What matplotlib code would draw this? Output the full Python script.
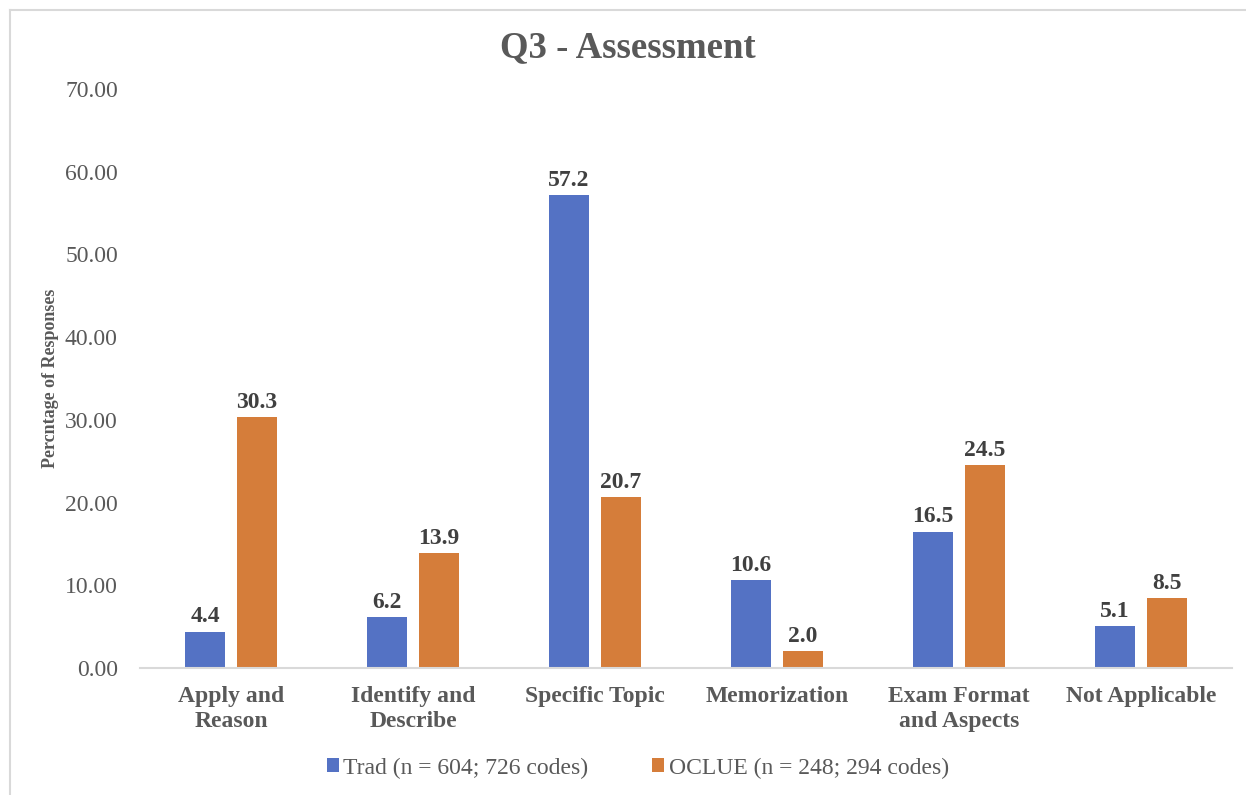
import numpy as np
import matplotlib
matplotlib.use('Agg')
import matplotlib.pyplot as plt
from matplotlib.lines import Line2D

# data: percentage of coded responses per category
categories = ['Apply and\nReason', 'Identify and\nDescribe', 'Specific Topic',
              'Memorization', 'Exam Format\nand Aspects', 'Not Applicable']
trad = [4.4, 6.2, 57.2, 10.6, 16.5, 5.1]
oclue = [30.3, 13.9, 20.7, 2.0, 24.5, 8.5]
series_names = ['Trad (n = 604; 726 codes)', 'OCLUE (n = 248; 294 codes)']
yticks = [0, 10, 20, 30, 40, 50, 60, 70]

blue = '#5472C4'
orange = '#D57D3A'
grey_text = '#595959'

plt.rcParams['font.family'] = ['Liberation Serif', 'DejaVu Serif']

fig = plt.figure(figsize=(12.46, 7.95), dpi=100)
ax = fig.add_axes([0.1124, 0.1597, 0.8764, 0.7283])

x = np.arange(len(categories))
w = 0.22
off = 0.143
b1 = ax.bar(x - off, trad, w, color=blue, label=series_names[0])
b2 = ax.bar(x + off, oclue, w, color=orange, label=series_names[1])

# value labels above each bar
for bars, vals in ((b1, trad), (b2, oclue)):
    for r, v in zip(bars, vals):
        ax.annotate('%.1f' % v, (r.get_x() + r.get_width() / 2, v),
                    xytext=(0, 3), textcoords='offset points',
                    ha='center', va='bottom', fontsize=17,
                    fontweight='bold', color='#404040')

ax.set_xlim(-0.5, len(categories) - 0.5)
ax.set_ylim(0, 70)
ax.set_yticks(yticks)
ax.set_yticklabels(['%.2f' % t for t in yticks], fontsize=17, color=grey_text)
ax.set_xticks(x)
ax.set_xticklabels(categories, fontsize=17, fontweight='bold', color=grey_text,
                   linespacing=1.25)
ax.tick_params(axis='both', length=0)
ax.tick_params(axis='x', pad=13)
ax.tick_params(axis='y', pad=16)

for s in ['top', 'right', 'left']:
    ax.spines[s].set_visible(False)
ax.spines['bottom'].set_color('#D9D9D9')
ax.spines['bottom'].set_linewidth(1.5)

ax.set_ylabel('Percntage of Responses', fontsize=13, fontweight='bold',
              color=grey_text, labelpad=4)
fig.text(0.504, 0.94, 'Q3 - Assessment', ha='center', va='center',
         fontsize=26.5, fontweight='bold', color=grey_text)

leg = ax.legend(loc='center', bbox_to_anchor=(0.512, 0.034),
                bbox_transform=fig.transFigure, ncol=2, frameon=False,
                fontsize=17, handlelength=0.5, handleheight=0.5,
                handletextpad=0.2, columnspacing=2.7)
for t in leg.get_texts():
    t.set_color(grey_text)

# outer chart frame (left and top edges)
fig.add_artist(Line2D([10 / 1246, 10 / 1246], [0, 1 - 10 / 795],
                      transform=fig.transFigure, color='#D9D9D9', lw=1.5))
fig.add_artist(Line2D([10 / 1246, 1], [1 - 10 / 795, 1 - 10 / 795],
                      transform=fig.transFigure, color='#D9D9D9', lw=1.5))

fig.savefig('out.png', dpi=100)
